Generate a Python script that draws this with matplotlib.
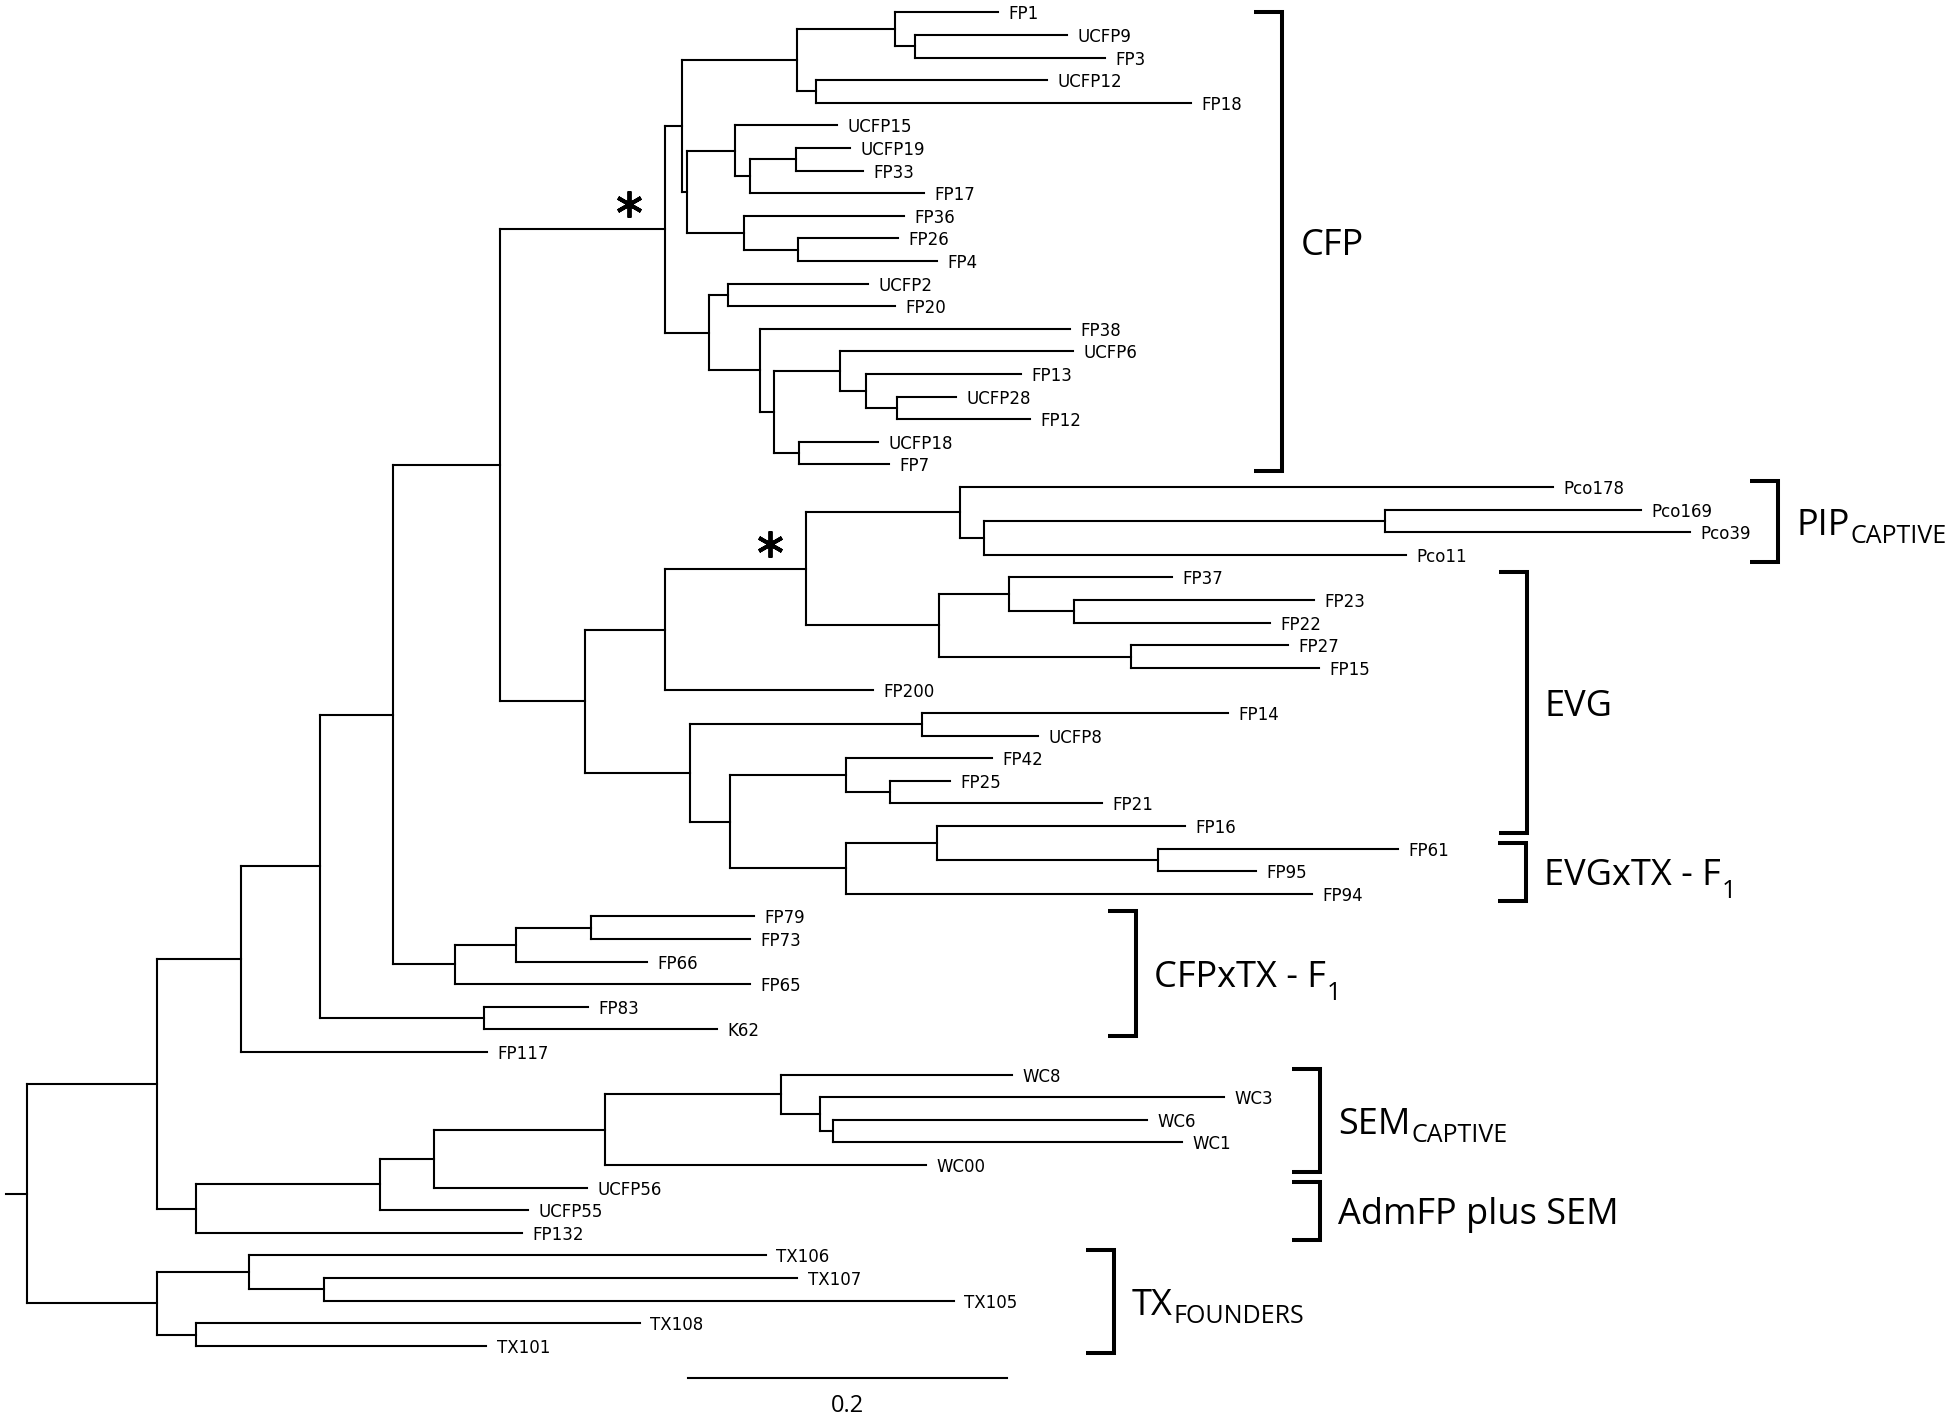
import matplotlib.pyplot as plt
from matplotlib.collections import LineCollection
from matplotlib.transforms import offset_copy

plt.rcParams['font.family'] = ['DejaVu Sans']

# tree pieces in Newick, branch lengths in substitutions/site
# "*" after a clade = node marked with an asterisk in the figure
cfp_clade = ("((((FP1:0.0649,(UCFP9:0.0955,FP3:0.1190):0.0127):0.0613,(UCFP12:0.1450,FP18:0.2352):0.0119):0.0722,"
             "((UCFP15:0.0642,((UCFP19:0.0342,FP33:0.0426):0.0288,FP17:0.1092):0.0091):0.0303,"
             "(FP36:0.1003,(FP26:0.0623,FP4:0.0869):0.0343):0.0357):0.0029):0.0111,"
             "((UCFP2:0.0877,FP20:0.1045):0.0120,(FP38:0.1947,((UCFP6:0.1460,(FP13:0.0977,"
             "(UCFP28:0.0375,FP12:0.0837):0.0195):0.0159):0.0415,(UCFP18:0.0495,FP7:0.0566):0.0155):0.0090):0.0318):0.0280)*")
evg_clade = ("((((Pco178:0.3722,((Pco169:0.1603,Pco39:0.1912):0.2523,Pco11:0.2654):0.0148):0.0966,"
             "((FP37:0.1022,(FP23:0.1502,FP22:0.1227):0.0409):0.0441,(FP27:0.0990,FP15:0.1182):0.1202):0.0834)*:0.0890,"
             "FP200:0.1310):0.0500,((FP14:0.1920,UCFP8:0.0726):0.1459,((FP42:0.0917,(FP25:0.0373,FP21:0.1330):0.0280):0.0725,"
             "((FP16:0.1555,(FP61:0.1511,FP95:0.0617):0.1387):0.0573,FP94:0.2929):0.0725):0.0253):0.0660)")
cfpxtx_clade = "(((FP79:0.1023,FP73:0.0997):0.0471,FP66:0.0821):0.0384,FP65:0.1852)"
sem_clade = ("(((((WC8:0.1453,(WC3:0.2538,(WC6:0.1974,WC1:0.2191):0.0080):0.0248):0.1106,WC00:0.2020):0.1073,"
             "UCFP56:0.0962):0.0341,UCFP55:0.0934):0.1150,FP132:0.2044)")
tx_clade = "((TX106:0.3246,(TX107:0.2973,TX105:0.3955):0.0473):0.0577,(TX108:0.2788,TX101:0.1823):0.0245)"
backbone = ("(((((({cfp}:0.1034,{evg}:0.0534):0.0673,{cfpxtx}:0.0391):0.0459,(FP83:0.0654,K62:0.1465):0.1029):0.0495,"
            "FP117:0.1546):0.0529,{sem}:0.0248):0.0814,{tx}:0.0814)")
root_stub = 0.0133

# clade brackets
group_names = ["CFP", "PIP", "EVG", "EVGxTX - F", "CFPxTX - F", "SEM", "AdmFP plus SEM", "TX"]
group_subs = ["", "CAPTIVE", "", "1", "1", "CAPTIVE", "", "FOUNDERS"]
group_first = ["FP1", "Pco178", "FP37", "FP61", "FP79", "WC8", "UCFP56", "TX106"]
group_last = ["FP7", "Pco11", "FP16", "FP94", "K62", "WC00", "FP132", "TX101"]
bracket_x = [0.7883, 1.0998, 0.9418, 0.9414, 0.6966, 0.8120, 0.8120, 0.6826]

scale_len = 0.2


def parse(s, i=0):
    node = {"kids": [], "name": "", "len": 0.0}
    if s[i] == "(":
        i += 1
        while True:
            kid, i = parse(s, i)
            node["kids"].append(kid)
            i += 1
            if s[i - 1] == ")":
                break
    j = i
    while i < len(s) and s[i] not in ",):":
        i += 1
    node["name"] = s[j:i]
    if i < len(s) and s[i] == ":":
        i += 1
        j = i
        while i < len(s) and s[i] not in ",)":
            i += 1
        node["len"] = float(s[j:i])
    return node, i


counter = [0]


def place(node, x0):
    node["x"] = x0 + node["len"]
    if node["kids"]:
        for k in node["kids"]:
            place(k, node["x"])
        node["y"] = (node["kids"][0]["y"] + node["kids"][-1]["y"]) / 2
    else:
        node["y"] = counter[0]
        counter[0] += 1


def walk(node):
    yield node
    for k in node["kids"]:
        yield from walk(k)


tree, _ = parse(backbone.format(cfp=cfp_clade, evg=evg_clade, cfpxtx=cfpxtx_clade,
                                sem=sem_clade, tx=tx_clade))
place(tree, 0.0)

# pixel layout of the original figure
PX_UNIT = 1591.8
ROOT_PX = 27.4
ROW_PX = 22.6
TOP_PX = 12.4

fig = plt.figure(figsize=(19.5, 14.17), dpi=100)
ax = fig.add_axes([0, 0, 1, 1])
ax.set_xlim(-ROOT_PX / PX_UNIT, (1950 - ROOT_PX) / PX_UNIT)
ax.set_ylim((1417 - TOP_PX) / ROW_PX, -TOP_PX / ROW_PX)
ax.axis('off')

segs = [[(-root_stub, tree["y"]), (0, tree["y"])]]
leaf_y = {}
for n in walk(tree):
    for k in n["kids"]:
        segs.append([(n["x"], k["y"]), (k["x"], k["y"])])
    if n["kids"]:
        segs.append([(n["x"], n["kids"][0]["y"]), (n["x"], n["kids"][-1]["y"])])
    else:
        leaf_y[n["name"]] = n["y"]
        ax.annotate(n["name"], (n["x"], n["y"]), xytext=(7.5, 0), textcoords='offset points',
                    ha='left', va='center_baseline', fontsize=12)
    if n["name"] == "*":
        ax.plot(n["x"], n["y"], marker=(6, 2, 0), ms=19, mew=2.8, color='black',
                transform=offset_copy(ax.transData, fig=fig, x=-26, y=18, units='points'))

ax.add_collection(LineCollection(segs, colors='black', linewidths=1.5, capstyle='projecting'))

# brackets with group names
tick = 28 / PX_UNIT
for name, sub, first, last, bx in zip(group_names, group_subs, group_first, group_last, bracket_x):
    y0 = max(leaf_y[first] - 0.25, 0)
    y1 = leaf_y[last] + 0.3
    ax.plot([bx - tick, bx, bx, bx - tick], [y0, y0, y1, y1], color='black', lw=2.9,
            solid_joinstyle='miter', solid_capstyle='butt')
    t = ax.annotate(name, (bx, (y0 + y1) / 2), xytext=(13, 0), textcoords='offset points',
                    ha='left', va='center_baseline', fontsize=26, family='Open Sans')
    if sub:
        dy = -3 if sub.isdigit() else 0.8
        ax.annotate(sub, (1, 0), xycoords=t, xytext=(0.5, dy), textcoords='offset points',
                    ha='left', va='baseline', fontsize=18, family='Open Sans')

# scale bar
sx0 = (688.3 - ROOT_PX) / PX_UNIT
ax.plot([sx0, sx0 + scale_len], [60.44, 60.44], color='black', lw=1.5)
ax.text(sx0 + scale_len / 2, 61.93, f"{scale_len:g}", ha='center', va='baseline',
        fontsize=17, family='Open Sans')

fig.savefig('out.png', dpi=100)
